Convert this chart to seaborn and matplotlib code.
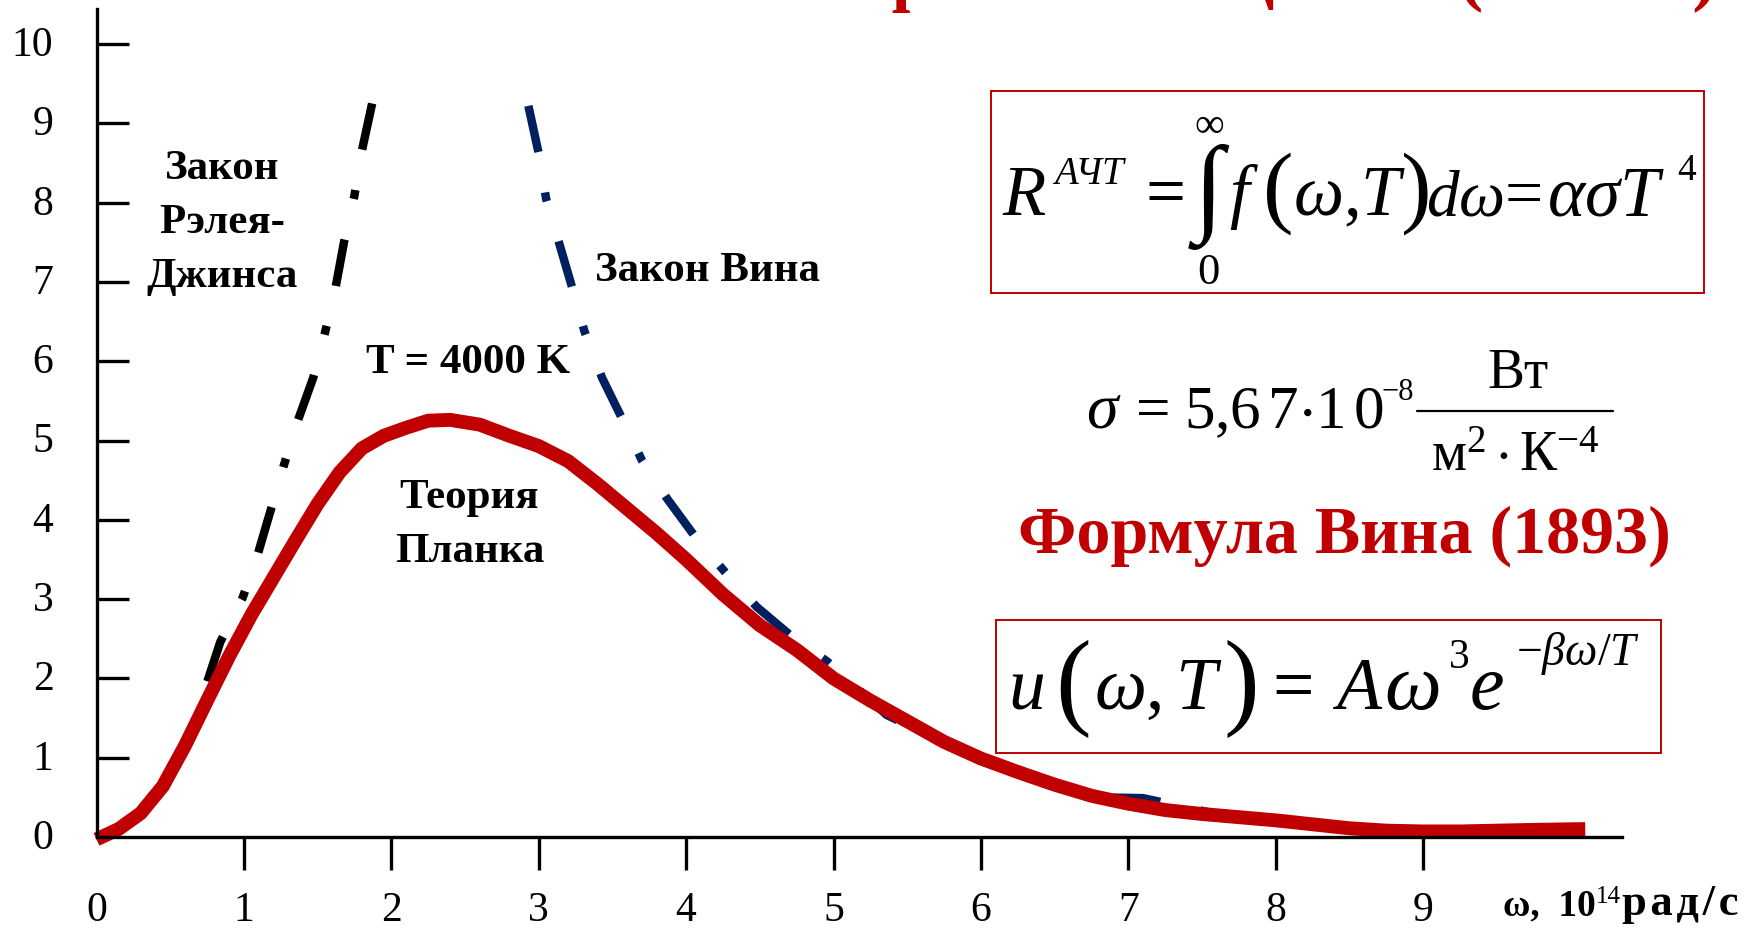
import matplotlib
matplotlib.use("Agg")
import matplotlib.pyplot as plt
import seaborn as sns
from matplotlib.patches import Rectangle
from matplotlib.lines import Line2D
from matplotlib.transforms import ScaledTranslation

# Spectral density of black-body radiation, T = 4000 K (omega in 1e14 rad/s)
omega_planck = [0.0, 0.15, 0.3, 0.45, 0.6, 0.75, 0.9, 1.05, 1.2, 1.35,
                1.5, 1.65, 1.8, 1.95, 2.1, 2.25, 2.4, 2.6, 2.8, 3.0,
                3.2, 3.4, 3.6, 3.8, 4.0, 4.25, 4.5, 4.75, 5.0, 5.25,
                5.5, 5.75, 6.0, 6.25, 6.5, 6.75, 7.0, 7.25, 7.5, 7.75,
                8.0, 8.25, 8.5, 8.75, 9.0, 9.25, 9.5, 9.75, 10.1]
u_planck = [-0.03, 0.1, 0.3, 0.64, 1.15, 1.72, 2.28, 2.8, 3.27, 3.74,
            4.2, 4.6, 4.9, 5.06, 5.16, 5.25, 5.26, 5.2, 5.06, 4.93,
            4.74, 4.45, 4.14, 3.83, 3.5, 3.06, 2.67, 2.36, 2.0, 1.72,
            1.46, 1.2, 0.99, 0.82, 0.66, 0.52, 0.42, 0.34, 0.29, 0.25,
            0.21, 0.16, 0.11, 0.08, 0.07, 0.07, 0.08, 0.09, 0.1]

# Rayleigh-Jeans law (listed from the top end downwards)
omega_rj = [1.87, 1.80, 1.75, 1.68, 1.62, 1.55, 1.47, 1.36, 1.27, 1.18,
            1.09, 0.99, 0.84, 0.75, 0.70]
u_rj = [9.25, 8.65, 8.09, 7.51, 6.91, 6.36, 5.79, 5.22, 4.68, 4.11,
        3.54, 3.01, 2.46, 1.95, 1.78]

# Wien law (listed from the top end downwards)
omega_wien = [2.93, 3.00, 3.05, 3.14, 3.23, 3.31, 3.43, 3.57, 3.70, 3.87,
              4.06, 4.26, 4.48, 4.71, 4.96, 5.36, 5.8, 6.3, 6.8, 7.1,
              7.6, 8.2, 8.8, 9.3]
u_wien = [9.22, 8.62, 8.05, 7.48, 6.91, 6.38, 5.79, 5.26, 4.75, 4.27,
          3.79, 3.35, 2.90, 2.54, 2.21, 1.54, 1.14, 0.80, 0.50, 0.49,
          0.29, 0.16, 0.08, 0.05]

x_ticks = [0, 1, 2, 3, 4, 5, 6, 7, 8, 9]
y_ticks = [0, 1, 2, 3, 4, 5, 6, 7, 8, 9, 10]

RED = "#C00000"
BLUE = "#002060"
SERIF = "Liberation Serif"

sns.set_theme(style="white")
plt.rcParams.update({
    "font.family": [SERIF, "DejaVu Serif"],
    "mathtext.fontset": "custom",
    "mathtext.rm": SERIF,
    "mathtext.it": SERIF + ":italic",
    "mathtext.bf": SERIF + ":bold",
    "mathtext.fallback": "stix",
    "lines.scale_dashes": False,
    "text.color": "black",
})

W, H = 1760, 931
fig = plt.figure(figsize=(W / 100, H / 100), dpi=100)
fig.patch.set_facecolor("white")

X0, Y0, XU, YU = 96.5, 837.0, 147.4, 79.3
xmax = (1622 - X0) / XU
ymax = (Y0 - 9) / YU
ax = fig.add_axes([X0 / W, 1 - Y0 / H, xmax * XU / W, ymax * YU / H])
ax.set_facecolor("white")

dash_dot = [34, 29.5, 6.5, 30]

sns.lineplot(x=omega_wien, y=u_wien, sort=False, estimator=None, ax=ax,
             color=BLUE, linewidth=6.1, zorder=2)
ln = ax.lines[-1]
ln.set_dashes(dash_dot)
ln.set_dash_capstyle("butt")

sns.lineplot(x=omega_rj, y=u_rj, sort=False, estimator=None, ax=ax,
             color="black", linewidth=6.1, zorder=3)
ln = ax.lines[-1]
ln.set_dashes(dash_dot)
ln.set_dash_capstyle("butt")

sns.lineplot(x=omega_planck, y=u_planck, sort=False, estimator=None, ax=ax,
             color=RED, linewidth=10, zorder=4)
ln = ax.lines[-1]
ln.set_solid_capstyle("butt")
ln.set_solid_joinstyle("round")
ln.set_clip_on(False)

ax.set_xlim(0, xmax)
ax.set_ylim(0, ymax)
ax.set_xlabel("")
ax.set_ylabel("")
sns.despine(ax=ax)
for side in ("left", "bottom"):
    ax.spines[side].set_linewidth(2.4)
    ax.spines[side].set_color("black")
    ax.spines[side].set_zorder(5)

ax.set_xticks(x_ticks)
ax.set_xticklabels([str(t) for t in x_ticks])
ax.set_yticks(y_ticks)
ax.set_yticklabels([str(t) for t in y_ticks])
ax.tick_params(axis="x", direction="out", length=24, width=2.4, pad=15,
               labelsize=30, colors="black", bottom=True)
ax.tick_params(axis="y", direction="in", length=23, width=2.4, pad=31,
               labelsize=30, colors="black", left=True)
ax.xaxis.get_major_ticks()[0].tick1line.set_visible(False)
ax.yaxis.get_major_ticks()[0].tick1line.set_visible(False)
lift = ScaledTranslation(0, 2 / 72, fig.dpi_scale_trans)
for lab in ax.get_yticklabels():
    lab.set_transform(lab.get_transform() + lift)

bold = dict(fontsize=31, fontweight="bold", color="black")
ax.text(0.85, 7.74, "Закон\nРэлея-\nДжинса", ha="center", va="center",
        linespacing=1.55, **bold)
ax.text(3.38, 7.14, "Закон Вина", ha="left", va="center", **bold)
ax.text(2.52, 5.98, "T = 4000 K", ha="center", va="center", **bold)
ax.text(2.53, 3.94, "Теория\nПланка", ha="center", va="center",
        linespacing=1.55, **bold)


def ftext(x, y, s, size, **kw):
    kw.setdefault("va", "baseline")
    kw.setdefault("ha", "left")
    kw.setdefault("color", "black")
    return fig.text(x / W, 1 - y / H, s, fontsize=size, **kw)


def frame(x0, y0, x1, y1):
    fig.add_artist(Rectangle((x0 / W, 1 - y1 / H), (x1 - x0) / W,
                             (y1 - y0) / H, transform=fig.transFigure,
                             fill=False, edgecolor=RED, linewidth=1.4))


# axis title
ftext(1503, 915, "ω,  10", 27, fontweight="bold")
ftext(1596, 903, "14", 18)
ftext(1622, 915, "р\u200aа\u200aд\u200a/\u200aс", 32, fontweight="bold")

# slide heading, cut by the upper edge
ftext(1717, -3, "Закон Стефана-Больцмана (1879 г.)", 53, ha="right",
      fontweight="bold", color=RED)

# R = integral f dw = a sigma T^4
frame(991, 91, 1704, 293)
ftext(1002, 215, "R", 51, fontstyle="italic")
ftext(1054, 184, "АЧТ", 28, fontstyle="italic")
ftext(1165, 215, "=", 51, ha="center")
ftext(1209, 127, "∞", 30, ha="center", va="center")
ftext(1209, 197, "∫", 78, ha="center", va="center")
ftext(1208, 284, "0", 32, ha="center")
ftext(1229, 215, "f", 51, fontstyle="italic")
ftext(1263, 216, "(", 66)
ftext(1293, 215, r"$\omega{,}T$", 51)
ftext(1401, 216, ")", 66)
ftext(1426, 215, r"$d\omega$", 47)
ftext(1524, 215, "=", 49, ha="center")
ftext(1547, 215, r"$\alpha\sigma T$", 51)
ftext(1677, 180, "4", 27)

# sigma = 5,67e-8 W/(m^2 K^-4)
ftext(1086, 428, r"$\sigma$", 46)
ftext(1153, 428, "=", 44, ha="center")
ftext(1184, 428, r"$5{,}6\,7{\cdot}1\,0$", 44)
ftext(1381, 400, "−8", 22)
fig.add_artist(Line2D([1417 / W, 1613 / W], [1 - 411 / H, 1 - 411 / H],
                      transform=fig.transFigure, color="black", lw=1.6))
ftext(1518, 388, "Вт", 40, ha="center")
ftext(1515, 471, r"$\mathrm{м}^{2}\cdot\mathrm{К}^{-4}$", 40, ha="center")

ftext(1018, 553, "Формула Вина (1893)", 49, fontweight="bold", color=RED)

# u = A w^3 exp(-b w / T)
frame(996, 620, 1661, 753)
ftext(1008, 709, "u", 53, fontstyle="italic")
ftext(1055, 715, "(", 77)
ftext(1094, 709, r"$\omega,T$", 53)
ftext(1223, 715, ")", 77)
ftext(1293, 709, "=", 53, ha="center")
ftext(1336, 709, "A", 53, fontstyle="italic")
ftext(1384, 709, r"$\omega$", 58)
ftext(1449, 668, "3", 30)
ftext(1470, 709, "e", 56, fontstyle="italic")
ftext(1516, 665, r"$-\beta\omega/T$", 33)

fig.savefig("out.png", dpi=100, facecolor="white")
